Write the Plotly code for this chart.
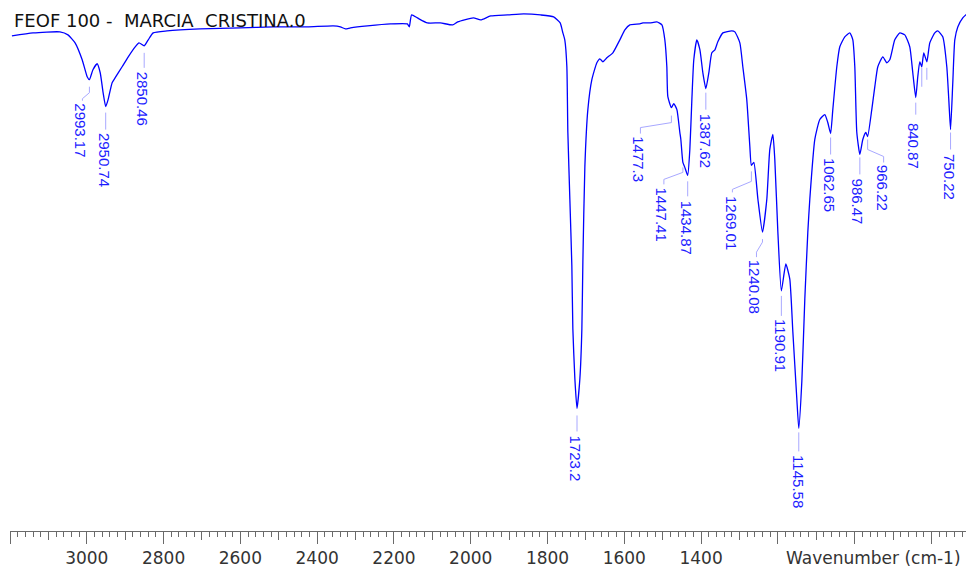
import plotly.graph_objects as go

# ---------------- data ----------------
wavenumber = [
    3195, 3140, 3070, 3049, 3030.5, 3012, 2999, 2993.17, 2984, 2973, 2965, 2957.5,
    2950.74, 2944.5, 2934, 2926, 2908, 2892, 2874, 2864, 2850.46, 2840, 2827, 2791,
    2705, 2600, 2514, 2425.5, 2358, 2339.5, 2326.5, 2313, 2269, 2209, 2165, 2160,
    2154, 2139, 2113, 2079, 2047, 2034, 1993, 1974, 1948, 1904, 1862, 1818, 1784,
    1767, 1760, 1755, 1749.6, 1747, 1741.8, 1736.6, 1734, 1728.8, 1723.2, 1715.7,
    1710.5, 1707.9, 1702.7, 1694.9, 1684.5, 1671.5, 1663.6, 1655.8, 1645.4, 1629.8,
    1611.6, 1598.5, 1585.5, 1559.5, 1551.7, 1533.4, 1515.2, 1502, 1494.4, 1489.2,
    1486.6, 1477.3, 1471, 1463, 1455.3, 1452.7, 1447.41, 1442.3, 1434.87, 1429.3,
    1424, 1419, 1411, 1403, 1395.4, 1387.62, 1379.8, 1372, 1364, 1356.4, 1343.3,
    1320, 1312, 1299, 1291.3, 1281, 1273, 1269.01, 1262.6, 1252, 1240.08, 1228.8,
    1221, 1213, 1208, 1200, 1190.91, 1179.3, 1169, 1161, 1150.7, 1145.58, 1137.6,
    1129.8, 1122, 1116.8, 1103.8, 1090.8, 1077.7, 1070, 1062.65, 1056.9, 1046.5,
    1038.7, 1025.7, 1012.6, 1004.8, 999.6, 994.4, 986.47, 978.8, 971, 966.22,
    955.4, 947.5, 939.7, 926.7, 916.3, 908.5, 895.5, 882.4, 869.4, 856.4, 848.6,
    840.87, 835.6, 830.4, 825.2, 820, 812, 804.3, 791.3, 783.5, 770.5, 760, 754.8,
    750.22, 744.4, 739.2, 731.4, 718.4, 710.6, 700,
]
transmittance = [
    99.4, 100, 100.2, 99.6, 98, 94.6, 91.2, 90.6, 92.6, 93.8, 92, 88,
    85.2, 86.6, 90, 91, 93.2, 95.2, 97.2, 98, 97.4, 98.6, 100, 100.4,
    100.8, 101, 101.2, 101.2, 101.4, 101.2, 100.8, 101, 101.4, 101.8, 101.8, 101.2,
    103.6, 103, 102, 102, 101.6, 102.2, 103, 102.6, 103.4, 103.6, 103.8, 103.6, 103.2,
    102, 100, 98.6, 93.2, 80, 66.6, 53.2, 40.6, 30.6, 24.6, 30.6,
    40.6, 54, 73.2, 84.6, 90.6, 94, 94.8, 94.2, 95, 96,
    98.6, 100.6, 101.6, 101.8, 102, 102, 102.2, 101.6, 98.6, 93.2,
    87.2, 85, 85.8, 84.6, 80, 78.6, 74, 73, 71.4, 76.6,
    86.6, 94.6, 98.6, 96.6, 92, 88.8, 92, 96, 96.6, 98.2, 100,
    100.4, 100.2, 98, 93.2, 86.6, 77.2, 73.4, 74, 66.6, 60, 66.6,
    76.6, 79.6, 74.6, 60, 48.2, 53.6, 50.6, 40, 26.6, 20.6, 30,
    46.6, 60, 66.6, 78.6, 82.6, 83.6, 82, 79.8, 84.6, 93.2,
    97.2, 99.2, 100, 98.6, 93.2, 80, 75.6, 78.6, 80, 79.2,
    84.6, 89.2, 93.2, 95.2, 94, 94.6, 98.6, 100, 99.6, 97.2, 92,
    87, 91.2, 94.2, 93.2, 96, 94.2, 98, 100, 100.4, 99.2, 93.2, 86.6,
    80.6, 90, 98.6, 101.2, 103, 103.6, 104.2,
]

peak_wn = [2993.17, 2950.74, 2850.46, 1723.2, 1477.3, 1447.41, 1434.87, 1387.62,
           1269.01, 1240.08, 1190.91, 1145.58, 1062.65, 986.47, 966.22, 840.87, 750.22]
unlabeled_peak_wn = [825.2, 812]

tick_values = [3200, 3000, 2800, 2600, 2400, 2200, 2000, 1800, 1600, 1400, 1200, 1000, 800]
tick_labels = ["", "3000", "2800", "2600", "2400", "2200", "2000", "1800", "1600", "1400", "", "", ""]

title_text = "FEOF 100 -\u00a0\u00a0MARCIA\u00a0\u00a0CRISTINA.0"
axis_title = "Wavenumber (cm-1)"

# ---------------- styling / layout ----------------
LINE_BLUE = "#0000ff"
LABEL_BLUE = "#1c1cff"
LEADER = "#a8a8ff"
AXIS_GREY = "#6a6a6a"

T_at = dict(zip(wavenumber, transmittance))

# leader paths (pixel offsets, y downwards) and label placement per peak
label_layout = {
    2993.17: dict(path=[(0, 7), (0, 13), (-7, 19), (-7, 21)], dx=-9, top=23),
    2950.74: dict(path=[(0, 6), (0, 23)], dx=-1, top=25),
    2850.46: dict(path=[(0, 7), (0, 22)], dx=-2, top=25),
    1723.2: dict(path=[(0, 7), (0, 23)], dx=-1, top=26),
    1477.3: dict(path=[(0, 8), (0, 15), (-31, 20), (-31, 26)], dx=-33, top=28),
    1447.41: dict(path=[(0, 5), (0, 10), (-19, 17), (-19, 22)], dx=-21, top=24),
    1434.87: dict(path=[(0, 6), (0, 21)], dx=-1, top=24),
    1387.62: dict(path=[(0, 4), (0, 21)], dx=-1, top=24),
    1269.01: dict(path=[(0, 6), (0, 16), (-19, 24), (-19, 27)], dx=-20, top=30),
    1240.08: dict(path=[(0, 7), (0, 10), (-6, 20), (-6, 25)], dx=-8, top=27),
    1190.91: dict(path=[(0, 5), (0, 25)], dx=-1, top=27),
    1145.58: dict(path=[(0, 4), (0, 23)], dx=-1, top=26),
    1062.65: dict(path=[(0, 4), (0, 21)], dx=-1, top=23),
    986.47: dict(path=[(0, 3), (0, 20)], dx=-2, top=23),
    966.22: dict(path=[(0, 3), (0, 13), (16, 20), (16, 26)], dx=15, top=27),
    840.87: dict(path=[(0, 5), (0, 17)], dx=-2, top=24),
    750.22: dict(path=[(0, 3), (0, 20)], dx=-1, top=23),
}
unlabeled_layout = {825.2: [(0, 1), (0, 20)], 812: [(0, 6), (0, 18)]}


def pixel_path(pts):
    return "M" + " L".join(f"{dx},{-dy}" for dx, dy in pts)


fig = go.Figure()
fig.add_trace(go.Scatter(
    x=wavenumber, y=transmittance, mode="lines",
    line=dict(color=LINE_BLUE, width=1.3, shape="spline", smoothing=0.5),
    hoverinfo="skip", showlegend=False,
))
# invisible trace to host the secondary (100-step) tick axis
fig.add_trace(go.Scatter(x=[wavenumber[0]], y=[transmittance[0]], xaxis="x2",
                         mode="markers", marker=dict(opacity=0), showlegend=False,
                         hoverinfo="skip"))

shapes = []
annotations = []
for w in peak_wn:
    L = label_layout[w]
    shapes.append(dict(type="path", xref="x", yref="y", xsizemode="pixel", ysizemode="pixel",
                       xanchor=w, yanchor=T_at[w], path=pixel_path(L["path"]),
                       line=dict(color=LEADER, width=1)))
    annotations.append(dict(x=w, y=T_at[w], xref="x", yref="y", text=str(w),
                            showarrow=False, textangle=90, xanchor="center", yanchor="top",
                            xshift=L["dx"], yshift=-L["top"], borderpad=0,
                            font=dict(family="Liberation Sans, Arial", size=15, color=LABEL_BLUE)))
for w in unlabeled_peak_wn:
    shapes.append(dict(type="path", xref="x", yref="y", xsizemode="pixel", ysizemode="pixel",
                       xanchor=w, yanchor=T_at[w], path=pixel_path(unlabeled_layout[w]),
                       line=dict(color=LEADER, width=1)))

annotations.append(dict(x=0.002, y=1.0, xref="paper", yref="paper", yshift=-20,
                        text=title_text, showarrow=False, xanchor="left", yanchor="middle",
                        font=dict(family="DejaVu Sans", size=18, color="#111111")))
annotations.append(dict(x=1.0, y=0, xref="paper", yref="paper", xshift=-3, yshift=-27,
                        text=axis_title, showarrow=False, xanchor="right", yanchor="middle",
                        font=dict(family="DejaVu Sans", size=17, color="#333333")))

x_range = [3200, 710]
fig.update_layout(
    width=966, height=568,
    margin=dict(l=10, r=0, t=0, b=35),
    paper_bgcolor="white", plot_bgcolor="white",
    shapes=shapes, annotations=annotations,
    xaxis=dict(range=x_range, showgrid=False, zeroline=False,
               showline=True, linecolor=AXIS_GREY, linewidth=1,
               ticks="outside", ticklen=12, tickwidth=1, tickcolor=AXIS_GREY,
               tickmode="array", tickvals=tick_values, ticktext=tick_labels,
               tickfont=dict(family="DejaVu Sans", size=17, color="#333333"),
               minor=dict(ticks="outside", ticklen=5, tickwidth=1, tickcolor=AXIS_GREY,
                          dtick=20, tick0=0, showgrid=False)),
    xaxis2=dict(range=x_range, overlaying="x", anchor="y", side="bottom",
                showgrid=False, zeroline=False, showline=False,
                ticks="outside", ticklen=8, tickwidth=1, tickcolor=AXIS_GREY,
                dtick=100, tick0=0, showticklabels=False),
    yaxis=dict(range=[0, 106.6], visible=False),
)

fig.write_html("out.html")
